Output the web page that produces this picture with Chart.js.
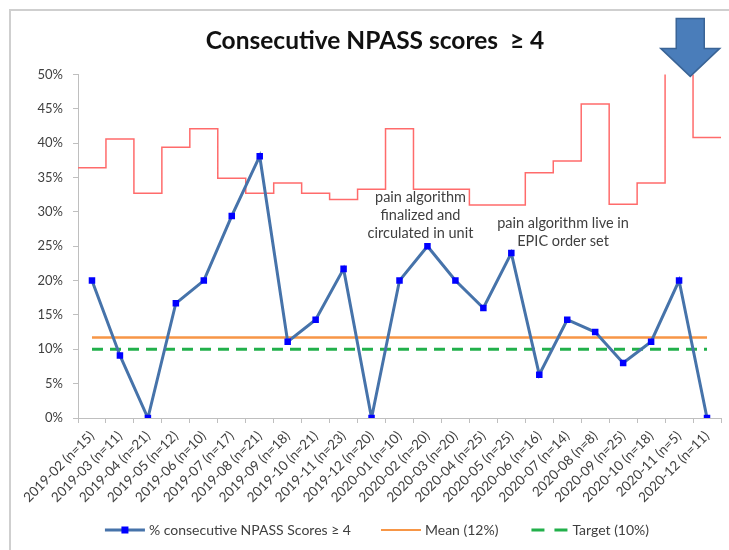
<!DOCTYPE html>
<html>
<head>
<meta charset="utf-8">
<script src="https://cdn.jsdelivr.net/npm/chart.js@4.4.0/dist/chart.umd.min.js"></script>
<style>
  html, body { margin: 0; padding: 0; background: #fff; }
</style>
</head>
<body>
<canvas id="npassChart" width="729" height="550"></canvas>
<script>
// Monthly audit periods with sample size
const months = [
  '2019-02 (n=15)', '2019-03 (n=11)', '2019-04 (n=21)', '2019-05 (n=12)',
  '2019-06 (n=10)', '2019-07 (n=17)', '2019-08 (n=21)', '2019-09 (n=18)',
  '2019-10 (n=21)', '2019-11 (n=23)', '2019-12 (n=20)', '2020-01 (n=10)',
  '2020-02 (n=20)', '2020-03 (n=20)', '2020-04 (n=25)', '2020-05 (n=25)',
  '2020-06 (n=16)', '2020-07 (n=14)', '2020-08 (n=8)', '2020-09 (n=25)',
  '2020-10 (n=18)', '2020-11 (n=5)', '2020-12 (n=11)'
];

// % of patients with consecutive NPASS scores >= 4
const pctScores = [20.0, 9.1, 0, 16.7, 20.0, 29.4, 38.1, 11.1, 14.3, 21.7, 0, 20.0,
                   25.0, 20.0, 16.0, 24.0, 6.3, 14.3, 12.5, 8.0, 11.1, 20.0, 0];

// upper control limit per month (varies with n)
const upperLimit = [36.4, 40.6, 32.7, 39.4, 42.1, 34.9, 32.7, 34.2, 32.7, 31.8, 33.3, 42.1,
                    33.3, 33.3, 31.0, 31.0, 35.7, 37.4, 45.7, 31.1, 34.2, 54.8, 40.8];

const meanPct = 11.7;
const targetPct = 10;

const yTicks = [0, 5, 10, 15, 20, 25, 30, 35, 40, 45, 50];

const FONT = 'Lato, "Open Sans", sans-serif';
const TEXT = '#404040';

const COLORS = { scores: '#4673AA', marker: '#0000FF', mean: '#F79646', target: '#22B04B', ucl: '#FF6B6B' };

// step line points sit on the month boundaries so each level spans a whole month
const uclPoints = upperLimit.map((v, i) => ({ x: i - 0.5, y: v }));
uclPoints.push({ x: upperLimit.length - 0.5, y: upperLimit[upperLimit.length - 1] });

const notes = [
  { x: 11.75, y: 32.1, lines: ['pain algorithm', 'finalized and', 'circulated in unit'] },
  { x: 16.85, y: 28.4, lines: ['pain algorithm live in', 'EPIC order set'] }
];

// legend sample strokes, drawn at (x, y) with width w
function drawKey(ctx, i, x, y, w) {
  ctx.save();
  ctx.beginPath();
  ctx.moveTo(x, y);
  ctx.lineTo(x + w, y);
  if (i === 0) {
    ctx.strokeStyle = COLORS.scores; ctx.lineWidth = 3; ctx.stroke();
    ctx.fillStyle = COLORS.marker; ctx.fillRect(x + w / 2 - 3.5, y - 3.5, 7, 7);
  } else if (i === 1) {
    ctx.strokeStyle = COLORS.mean; ctx.lineWidth = 2; ctx.stroke();
  } else {
    ctx.strokeStyle = COLORS.target; ctx.lineWidth = 3; ctx.setLineDash([13, 10]);
    ctx.beginPath(); ctx.moveTo(x + 3, y); ctx.lineTo(x + w, y); ctx.stroke();
  }
  ctx.restore();
}

// white background, sheet border, legend, text notes and the big arrow
const extras = {
  id: 'extras',
  beforeDraw(chart) {
    const ctx = chart.ctx;
    ctx.save();
    ctx.fillStyle = '#fff';
    ctx.fillRect(0, 0, chart.width, chart.height);
    ctx.strokeStyle = '#CFCFCF';
    ctx.lineWidth = 2;
    ctx.beginPath();
    ctx.moveTo(10, chart.height);
    ctx.lineTo(10, 10);
    ctx.lineTo(chart.width, 10);
    ctx.stroke();
    ctx.restore();
  },
  afterDraw(chart) {
    const ctx = chart.ctx;
    const xs = chart.scales.xs, y = chart.scales.y;
    ctx.save();
    ctx.font = '14.5px ' + FONT;
    ctx.fillStyle = TEXT;
    ctx.textAlign = 'center';
    ctx.textBaseline = 'middle';
    notes.forEach(n => {
      const px = xs.getPixelForValue(n.x), py = y.getPixelForValue(n.y);
      n.lines.forEach((t, i) => ctx.fillText(t, px, py + i * 18));
    });

    // legend row under the axis labels
    const labels = chart.data.datasets.slice(0, 3).map(d => d.label);
    ctx.font = '14px ' + FONT;
    ctx.textAlign = 'left';
    const keyW = 40, keyGap = 4, itemGap = 30;
    const widths = labels.map(t => keyW + keyGap + ctx.measureText(t).width);
    const total = widths.reduce((a, b) => a + b, 0) + itemGap * (labels.length - 1);
    let lx = 377 - total / 2;
    const ly = 530;
    labels.forEach((t, i) => {
      drawKey(ctx, i, lx, ly, keyW);
      ctx.fillText(t, lx + keyW + keyGap, ly);
      lx += widths[i] + itemGap;
    });

    // down arrow pointing at the 2020-12 period
    const tx = xs.getPixelForValue(21.4), ty = y.getPixelForValue(50) + 2;
    ctx.beginPath();
    ctx.moveTo(tx, ty);
    ctx.lineTo(tx - 29.5, ty - 28);
    ctx.lineTo(tx - 14, ty - 28);
    ctx.lineTo(tx - 14, ty - 58);
    ctx.lineTo(tx + 14, ty - 58);
    ctx.lineTo(tx + 14, ty - 28);
    ctx.lineTo(tx + 29.5, ty - 28);
    ctx.closePath();
    ctx.fillStyle = '#4A7DBA';
    ctx.fill();
    ctx.strokeStyle = '#3A6496';
    ctx.lineWidth = 1.5;
    ctx.stroke();
    ctx.restore();
  }
};

const chart = new Chart(document.getElementById('npassChart'), {
  type: 'line',
  data: {
    labels: months,
    datasets: [
      {
        label: '% consecutive NPASS Scores ≥ 4',
        data: pctScores,
        borderColor: COLORS.scores,
        borderWidth: 3,
        pointStyle: 'rect',
        pointRadius: 4.6,
        pointBackgroundColor: COLORS.marker,
        pointBorderWidth: 0,
        tension: 0
      },
      {
        label: 'Mean (' + Math.round(meanPct) + '%)',
        data: months.map(() => meanPct),
        borderColor: COLORS.mean,
        borderWidth: 2.5,
        pointRadius: 0
      },
      {
        label: 'Target (' + targetPct + '%)',
        data: months.map(() => targetPct),
        borderColor: COLORS.target,
        borderWidth: 3,
        borderDash: [11, 7],
        pointRadius: 0
      },
      {
        label: 'UCL',
        data: uclPoints,
        xAxisID: 'xs',
        stepped: 'before',
        borderColor: COLORS.ucl,
        borderWidth: 1.5,
        pointRadius: 0
      }
    ]
  },
  options: {
    responsive: false,
    animation: false,
    layout: { padding: { left: 29, right: 8, top: 0, bottom: 40 } },
    scales: {
      x: {
        type: 'category',
        offset: true,
        grid: { offset: true, drawOnChartArea: false, tickLength: 5, color: '#BFBFBF' },
        border: { color: '#BFBFBF' },
        ticks: {
          autoSkip: false, maxRotation: 45, minRotation: 45,
          color: TEXT, font: { family: FONT, size: 13.5 }, padding: 5
        },
        afterFit(scale) { scale.height = 92; }
      },
      xs: {
        type: 'linear',
        display: false,
        min: -0.5,
        max: months.length - 0.5
      },
      y: {
        min: 0,
        max: 50,
        afterBuildTicks(scale) { scale.ticks = yTicks.map(v => ({ value: v })); },
        grid: { drawOnChartArea: false, tickLength: 5, color: '#BFBFBF' },
        border: { color: '#BFBFBF' },
        ticks: {
          color: TEXT, font: { family: FONT, size: 13 }, padding: 10,
          callback: v => v + '%'
        },
        afterFit(scale) { scale.width = 49; }
      }
    },
    plugins: {
      title: {
        display: true,
        text: 'Consecutive NPASS scores  ≥ 4',
        color: '#111',
        font: { family: FONT, size: 24.5, weight: 'bold' },
        padding: { top: 26, bottom: 19 }
      },
      legend: { display: false },
      tooltip: { enabled: false }
    }
  },
  plugins: [extras]
});
</script>
</body>
</html>
